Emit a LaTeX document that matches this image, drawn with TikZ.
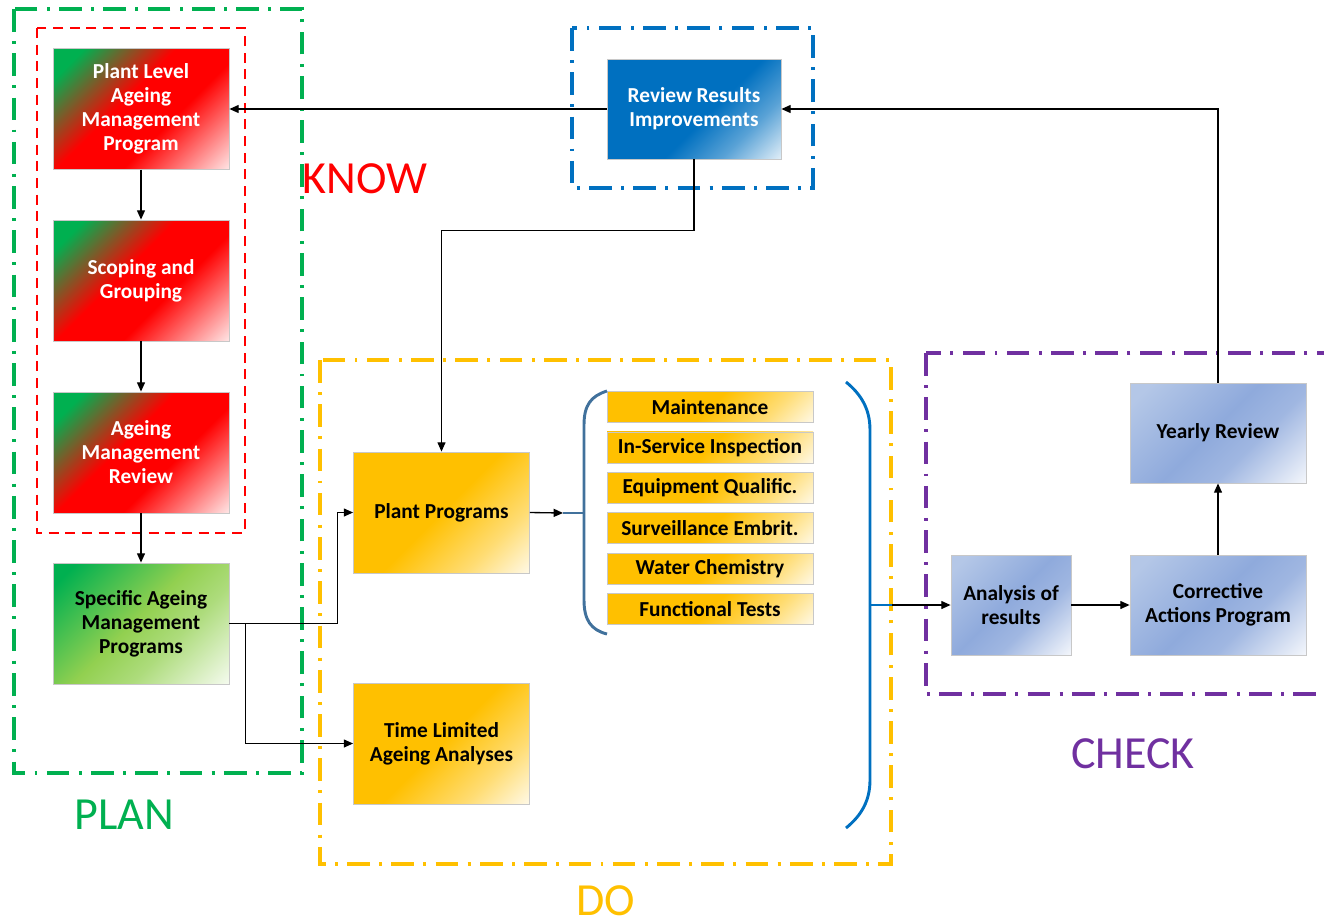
\documentclass[tikz,border=0pt]{standalone}
\usepackage{fontspec}
\setmainfont{Carlito}
\usetikzlibrary{positioning,arrows.meta}

\definecolor{plangreen}{RGB}{0,176,80}
\definecolor{knowred}{RGB}{255,0,0}
\definecolor{dogold}{RGB}{255,192,0}
\definecolor{checkpurple}{RGB}{112,48,160}
\definecolor{revblue}{RGB}{0,112,192}
\definecolor{lightgreen}{RGB}{146,208,80}
\definecolor{bluegray}{RGB}{143,170,220}
\definecolor{bluepale}{RGB}{180,199,231}
\definecolor{bracesteel}{RGB}{65,113,156}
\definecolor{boxedge}{RGB}{200,200,200}

\pgfdeclarehorizontalshading{redgrad}{100bp}{color(0bp)=(plangreen); color(22bp)=(plangreen); color(44bp)=(knowred); color(60bp)=(knowred); color(86bp)=(white!92!knowred); color(100bp)=(white)}
\pgfdeclarehorizontalshading{greengrad}{100bp}{color(0bp)=(plangreen); color(20bp)=(plangreen); color(48bp)=(lightgreen); color(62bp)=(lightgreen!75!white); color(86bp)=(white!92!lightgreen); color(100bp)=(white)}
\pgfdeclarehorizontalshading{goldgrad}{100bp}{color(0bp)=(dogold); color(50bp)=(dogold); color(70bp)=(dogold!55!white); color(86bp)=(white!92!dogold); color(100bp)=(white)}
\pgfdeclarehorizontalshading{bluegrad}{100bp}{color(0bp)=(bluepale); color(20bp)=(bluepale); color(48bp)=(bluegray); color(62bp)=(bluegray!85!white); color(86bp)=(white!92!bluegray); color(100bp)=(white)}
\pgfdeclarehorizontalshading{revgrad}{100bp}{color(0bp)=(revblue); color(55bp)=(revblue); color(70bp)=(revblue!65!white); color(86bp)=(white!90!revblue); color(100bp)=(white)}

\tikzset{
  box/.style={draw=boxedge, line width=0.6pt, shade, shading angle=-45,
    minimum width=132pt, minimum height=90.75pt, inner sep=2pt,
    align=center, font=\fontsize{16}{18}\selectfont\bfseries},
  redbox/.style={box, shading=redgrad, text=white},
  greenbox/.style={box, shading=greengrad},
  goldbox/.style={box, shading=goldgrad},
  bluebox/.style={box, shading=bluegrad, minimum height=75pt},
  revbox/.style={box, shading=revgrad, text=white, minimum width=130.5pt, minimum height=75pt},
  itembox/.style={box, shading=goldgrad, minimum width=154.5pt, minimum height=23.25pt},
  frame/.style={line width=2.6pt, dash pattern=on 17pt off 7pt on 2.2pt off 7pt},
  arr/.style={-{Triangle[length=7pt,width=6pt]}, line width=1pt},
  phase/.style={font=\fontsize{34.5}{40}\selectfont, inner sep=1pt},
}

\begin{document}
\begin{tikzpicture}[x=0.75pt, y=-0.75pt]
    \useasboundingbox (0,0) rectangle (1324,922);

    % phase frames
    \draw[frame, plangreen] (14,9) rectangle (302,773);
    \draw[knowred, line width=1.5pt, dash pattern=on 7.5pt off 5pt] (37,28) rectangle (245,533);
    \draw[frame, revblue] (572,28) rectangle (813,188);
    \draw[frame, dogold] (320,360) rectangle (891,864);
    \draw[frame, checkpurple] (926,353) rectangle (1345,694);

    \node[phase, text=knowred] (know) at (365,179) {KNOW};
    \node[phase, text=plangreen] (plan) at (124,815) {PLAN};
    \node[phase, text=dogold] (do) at (606,901) {DO};
    \node[phase, text=checkpurple] (check) at (1133,754) {CHECK};

    % plan column
    \node[redbox] (plp) at (141,109) {Plant Level\\Ageing\\Management\\Program};
    \node[redbox] (sg) at (141,280.5) {Scoping and\\Grouping};
    \node[redbox] (amr) at (141,452.5) {Ageing\\Management\\Review};
    \node[greenbox] (sam) at (141,623.5) {Specific Ageing\\Management\\Programs};

    \node[revbox] (rev) at (694,109) {Review Results\\Improvements};

    % do
    \node[goldbox] (pp) at (441.5,512.5) {Plant Programs};
    \node[goldbox] (tla) at (441.5,743.5) {Time Limited\\Ageing Analyses};

    \foreach \name/\txt [count=\i] in {mnt/Maintenance, isi/In-Service Inspection,
        eq/Equipment Qualific., se/Surveillance Embrit., wc/Water Chemistry, ft/Functional Tests}
        \node[itembox] (\name) at (710,366.6+40.4*\i) {\txt};

    % braces
    \coordinate (lbtip) at (563,513);
    \coordinate (rbtip) at (892,605);
    \draw[bracesteel, line width=2.2pt] (607,391) .. controls (591,396) and (584,405) .. (584,425)
        -- (584,600) .. controls (584,620) and (591,630) .. (607,634);
    \draw[bracesteel, line width=2.2pt] (lbtip) -- (584,513);
    \draw[revblue, line width=2.2pt] (846,382) .. controls (862,395) and (870,410) .. (870,430)
        -- (870,780) .. controls (870,800) and (862,815) .. (846,828);
    \draw[revblue, line width=2.2pt] (870,605) -- (rbtip);

    % check
    \node[bluebox, minimum width=90pt] (ana) at (1011,605) {Analysis of\\results};
    \node[bluebox] (cap) at (1218,605) {Corrective\\Actions Program};
    \node[bluebox] (yr) at (1218,433) {Yearly Review};

    % connectors
    \draw[arr] (rev.west) -- (plp.east);
    \draw[arr] (plp) -- (sg);
    \draw[arr] (sg) -- (amr);
    \draw[arr] (amr) -- (sam);
    \draw[arr] (sam.east) -- ++(108,0) |- (pp.west);
    \draw[arr] (sam.east) -- ++(16,0) |- (tla.west);
    \draw[arr] (rev.south) -- ++(0,71) -| (pp.north);
    \draw[arr] (pp.east) -- (lbtip);
    \draw[arr] (rbtip) -- (ana.west);
    \draw[arr] (ana) -- (cap);
    \draw[arr] (cap) -- (yr);
    \draw[arr] (yr.north) |- (rev.east);

\end{tikzpicture}
\end{document}
